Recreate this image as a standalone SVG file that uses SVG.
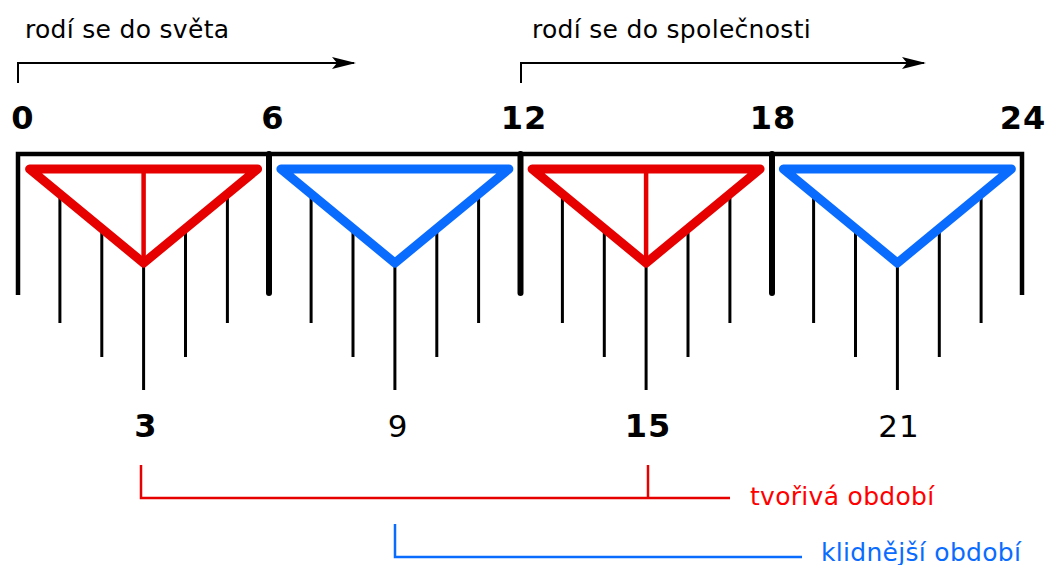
<svg xmlns="http://www.w3.org/2000/svg" width="1049" height="565" viewBox="0 0 1049 565">
<defs>
<style>
text{font-family:"DejaVu Sans","Liberation Sans",sans-serif}
.lbl{font-size:25px;letter-spacing:0.3px;fill:#000}
.num{font-size:32px;font-weight:bold;fill:#000;text-anchor:middle;letter-spacing:1px}
.numn{font-size:31px;font-weight:normal;fill:#000;text-anchor:middle;letter-spacing:1px}
.frame{fill:none;stroke:#000;stroke-width:4.5;stroke-linejoin:miter}
.major{stroke:#000;stroke-width:6;stroke-linecap:round}
.minor{stroke:#000;stroke-width:3}
.arr{fill:none;stroke:#000;stroke-width:2}
.tri-r{fill:#fff;stroke:#e60000;stroke-width:9;stroke-linejoin:round}
.tri-b{fill:#fff;stroke:#0a6cff;stroke-width:9;stroke-linejoin:round}
.mid-r{stroke:#e60000;stroke-width:4.5}
.br-r{fill:none;stroke:#e60000;stroke-width:2.5}
.br-b{fill:none;stroke:#0a6cff;stroke-width:2.5}
.t-r{font-size:25px;letter-spacing:0.3px;fill:#ff0000}
.t-b{font-size:25px;letter-spacing:0.3px;fill:#0a6cff}
</style>
<marker id="ah" viewBox="0 0 24 12" refX="22" refY="6" markerWidth="24" markerHeight="12" markerUnits="userSpaceOnUse" orient="auto">
<path d="M0,0 L24,6 L0,12 L5,6 Z" fill="#000"/>
</marker>
</defs>

<g id="connectors">
<polyline class="arr" points="18,83 18,63 354,63" marker-end="url(#ah)"/>
<polyline class="arr" points="521,83 521,63 924,63" marker-end="url(#ah)"/>
<polyline class="br-r" points="141,465 141,498 730,498"/>
<line class="br-r" x1="648" y1="465" x2="648" y2="498"/>
<polyline class="br-b" points="395,524 395,557 802,557"/>
</g>

<g id="timeline">
<polyline class="frame" points="18,295 18,154 1022,154 1022,295"/>
<line class="major" x1="269" y1="154" x2="269" y2="293"/>
<line class="major" x1="520.5" y1="154" x2="520.5" y2="293"/>
<line class="major" x1="772" y1="154" x2="772" y2="293"/>
<g id="minor-ticks">
<line class="minor" x1="59.9" y1="172" x2="59.9" y2="323"/>
<line class="minor" x1="101.8" y1="172" x2="101.8" y2="357"/>
<line class="minor" x1="143.6" y1="172" x2="143.6" y2="390"/>
<line class="minor" x1="185.5" y1="172" x2="185.5" y2="357"/>
<line class="minor" x1="227.4" y1="172" x2="227.4" y2="323"/>
<line class="minor" x1="311.1" y1="172" x2="311.1" y2="323"/>
<line class="minor" x1="353" y1="172" x2="353" y2="357"/>
<line class="minor" x1="394.9" y1="172" x2="394.9" y2="390"/>
<line class="minor" x1="436.8" y1="172" x2="436.8" y2="357"/>
<line class="minor" x1="478.6" y1="172" x2="478.6" y2="323"/>
<line class="minor" x1="562.4" y1="172" x2="562.4" y2="323"/>
<line class="minor" x1="604.3" y1="172" x2="604.3" y2="357"/>
<line class="minor" x1="646.1" y1="172" x2="646.1" y2="390"/>
<line class="minor" x1="688" y1="172" x2="688" y2="357"/>
<line class="minor" x1="729.9" y1="172" x2="729.9" y2="323"/>
<line class="minor" x1="813.6" y1="172" x2="813.6" y2="323"/>
<line class="minor" x1="855.5" y1="172" x2="855.5" y2="357"/>
<line class="minor" x1="897.4" y1="172" x2="897.4" y2="390"/>
<line class="minor" x1="939.3" y1="172" x2="939.3" y2="357"/>
<line class="minor" x1="981.1" y1="172" x2="981.1" y2="323"/>
</g>
</g>

<g id="tri-0-6">
<polygon class="tri-r" points="29.6,169 257.6,169 143.6,263"/>
<line class="mid-r" x1="143.6" y1="169" x2="143.6" y2="263"/>
</g>
<g id="tri-6-12">
<polygon class="tri-b" points="280.9,169 508.9,169 394.9,263"/>
</g>
<g id="tri-12-18">
<polygon class="tri-r" points="532.1,169 760.1,169 646.1,263"/>
<line class="mid-r" x1="646.1" y1="169" x2="646.1" y2="263"/>
</g>
<g id="tri-18-24">
<polygon class="tri-b" points="783.4,169 1011.4,169 897.4,263"/>
</g>

<g id="hour-labels">
<text class="num" x="23" y="129">0</text>
<text class="num" x="273" y="129">6</text>
<text class="num" x="524" y="129">12</text>
<text class="num" x="773" y="129">18</text>
<text class="num" x="1023" y="129">24</text>
<text class="num" x="146" y="437">3</text>
<text class="numn" x="398" y="437">9</text>
<text class="num" x="648" y="437">15</text>
<text class="numn" x="899" y="437">21</text>
</g>

<g id="label-world"><text class="lbl" x="25" y="38">rodí se do světa</text></g>
<g id="label-society"><text class="lbl" x="532" y="38">rodí se do společnosti</text></g>
<g id="label-creative"><text class="t-r" x="750" y="505">tvořivá období</text></g>
<g id="label-calm"><text class="t-b" x="821" y="561">klidnější období</text></g>
</svg>
